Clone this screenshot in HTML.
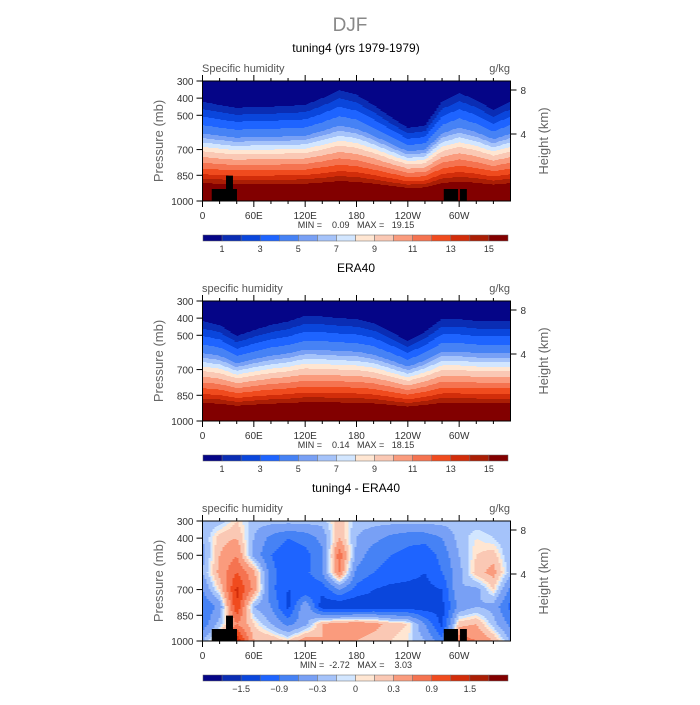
<!DOCTYPE html>
<html><head><meta charset="utf-8">
<style>
body{margin:0;background:#fff;}
svg text{font-family:"Liberation Sans",sans-serif;}
</style></head>
<body>
<svg id="chart" width="700" height="700" viewBox="0 0 700 700" xmlns="http://www.w3.org/2000/svg">
<rect width="700" height="700" fill="#fff"/>
<text x="350" y="31" font-size="19" fill="#888" text-anchor="middle">DJF</text>
</svg>
<script>
// ---- data ----
const lons = [0,20,40,60,80,100,120,140,160,180,200,220,240,260,280,300,320,340,360];
const p1Model = [421,440,457,450,450,445,440,400,353,380,440,510,574,560,420,370,410,470,421];
const p1Era   = [417,440,504,470,440,420,387,390,400,405,430,480,533,480,405,405,417,417,417];
const profS = [0,0.18,0.27,0.5,0.68,0.85,1,1.35];
const profQ = [17,15,13,9,5,3,1,0.3];
const diffP = [300,400,500,600,700,800,900,1000];
const diffGrid = [
 [-0.2,-0.2,0.1,-0.2,-0.2,-0.2,-0.2,-0.2,0.2,-0.2,-0.2,-0.2,-0.2,-0.2,-0.2,-0.2,-0.2,-0.2,-0.2],
 [-0.3,0.2,0.3,-0.3,-0.7,-0.9,-0.8,-0.5,0.3,-0.3,-0.5,-0.7,-0.8,-0.8,-0.6,-0.2,0.0,-0.1,-0.3],
 [-0.4,0.3,0.6,-0.4,-0.9,-1.1,-1.0,-0.7,0.8,-0.4,-0.8,-0.9,-1.0,-1.1,-0.8,-0.3,0.1,0.2,-0.3],
 [-0.3,0.4,0.9,0.4,-0.8,-1.1,-1.0,-0.6,0.6,-0.7,-0.9,-1.0,-1.1,-1.2,-0.9,-0.4,0.2,0.4,-0.2],
 [-0.6,0.1,1.3,0.5,-0.8,-1.2,-1.2,-1.1,-0.6,-1.0,-1.2,-1.3,-1.3,-1.3,-1.2,-0.3,-0.4,0.1,-0.7],
 [-0.9,-0.5,1.2,-0.3,-0.6,-1.3,-0.3,-1.4,-1.5,-1.5,-1.4,-1.4,-1.4,-1.4,-1.3,-0.5,-0.3,-0.4,-1.0],
 [-0.8,-0.2,0.6,0.1,-0.3,-0.7,-0.4,0.3,0.4,0.5,0.4,0.2,0.1,-0.6,-1.3,0.2,0.3,-0.2,-0.7],
 [-0.3,0.3,1.5,0.3,0.3,0.1,0.5,0.3,0.4,0.3,0.2,0.1,0.0,-0.3,-0.8,0.8,0.6,0.3,-0.3]];
const qLevels = [1,2,3,4,5,6,7,8,9,10,11,12,13,14,15];
const qLabels = ["1","3","5","7","9","11","13","15"];
const dLevels = [-1.8,-1.5,-1.2,-0.9,-0.6,-0.3,-0.1,0,0.1,0.3,0.6,0.9,1.2,1.5,1.8];
const dLabels = ["−1.5","−0.9","−0.3","0","0.3","0.9","1.5"];
const maskLon = [[10.8,40.3],[27.5,35.6],[282,298.6],[301,309]];
const maskTop = [930,852,930,930];
const pTicks = [300,400,500,700,850,1000];
const hTicks = [[8,90],[4,134]];
const xLabels = ["0","60E","120E","180","120W","60W"];
const colors = ['#050587','#0a2db4','#0a46dc','#1e64ff','#4682f5','#78a0f5','#a5c3fa','#d2e6ff','#ffe6d2','#fac8b4','#fa9b7d','#f57350','#f04b1e','#d22d0a','#aa1e05','#820000'];

const NS="http://www.w3.org/2000/svg";
const svg=document.getElementById('chart');
function mk(tag,attrs,parent){const e=document.createElementNS(NS,tag);for(const k in attrs)e.setAttribute(k,attrs[k]);(parent||svg).appendChild(e);return e;}
const X0=202.5,X1=510.5;
function xs(lon){return X0+(lon/360)*(X1-X0);}
function ys(p,top){return top+(p-300)/700*120;}
function interpLon(arr,lon){const i=Math.min(17,Math.floor(lon/20));const t=(lon-lons[i])/20;return arr[i]*(1-t)+arr[i+1]*t;}
function profile(s){if(s>=profS[profS.length-1])return profQ[profQ.length-1];for(let i=0;i<profS.length-1;i++){if(s<=profS[i+1]){const t=(s-profS[i])/(profS[i+1]-profS[i]);return profQ[i]*(1-t)+profQ[i+1]*t;}}}
function level(v,lev){let k=0;while(k<lev.length&&v>=lev[k])k++;return k;}
function diffAt(lon,p){let j=0;while(j<6&&p>diffP[j+1])j++;const tp=(p-diffP[j])/100;
 const i=Math.min(17,Math.floor(lon/20));const t=(lon-lons[i])/20;
 const a=diffGrid[j][i]*(1-t)+diffGrid[j][i+1]*t,b=diffGrid[j+1][i]*(1-t)+diffGrid[j+1][i+1]*t;return a*(1-tp)+b*tp;}

function panel(top,title,sub,field,lev,mm,labels,mask){
 const g=mk('g',{});
 
 
 const tt=mk('text',{x:356,y:top-29,'font-size':12,'text-anchor':'middle',fill:'#000'},g);tt.textContent=title;
 
 const st=mk('text',{x:202,y:top-9,'font-size':11,fill:'#555'},g);st.textContent=sub;
 
 const ut=mk('text',{x:510,y:top-9,'font-size':11,fill:'#555','text-anchor':'end'},g);ut.textContent='g/kg';
 
 const fg=mk('g',{'shape-rendering':'crispEdges'},g);
 
 for(let px=0;px<308;px+=2){
  const lon=(px+1)/308*360;let runStart=0,runLev=-1;
  for(let py=0;py<=120;py++){
   let L=-2;
   if(py<120){const p=300+(py+0.5)/120*700;L=level(field(lon,p),lev);}
   if(L!==runLev){
    if(runLev>=0){const r=mk('rect',{x:X0+px,y:top+runStart,width:2.3,height:py-runStart+0.3,fill:colors[runLev]},fg);
     }
    runLev=L;runStart=py;}
  }
 }
 if(mask){maskLon.forEach((m,i)=>{const r=mk('rect',{x:xs(m[0]),y:ys(maskTop[i],top),width:xs(m[1])-xs(m[0]),height:ys(1000,top)-ys(maskTop[i],top),fill:'#000'},g);
  });}
 const fr=mk('rect',{x:X0,y:top,width:X1-X0,height:120,fill:'none',stroke:'#000','stroke-width':1},g);
 
 pTicks.forEach(p=>{const y=ys(p,top);mk('line',{x1:X0-6,x2:X0,y1:y,y2:y,stroke:'#000'},g);
  const t=mk('text',{x:X0-9,y:y+4,'font-size':10,fill:'#333','text-anchor':'end'},g);t.textContent=p;
  });
 hTicks.forEach(h=>{const y=top+(h[1]-81);mk('line',{x1:X1,x2:X1+6,y1:y,y2:y,stroke:'#000'},g);
  const t=mk('text',{x:X1+10,y:y+4,'font-size':10,fill:'#333'},g);t.textContent=h[0];
  });
 for(let l=0;l<=340;l+=20){const x=xs(l);const len=l%60===0?6:3;
  mk('line',{x1:x,x2:x,y1:top+120,y2:top+120+len,stroke:'#000'},g);mk('line',{x1:x,x2:x,y1:top,y2:top-len,stroke:'#000'},g);}
 xLabels.forEach((s,i)=>{const t=mk('text',{x:xs(i*60),y:top+138,'font-size':10,fill:'#333','text-anchor':'middle'},g);t.textContent=s;
  });
 const m=mk('text',{x:356,y:top+147,'font-size':9,fill:'#333','text-anchor':'middle',style:'white-space:pre'},g);m.textContent=mm;
 
 const ya=mk('text',{transform:`translate(163,${top+60}) rotate(-90)`,'font-size':13,fill:'#666','text-anchor':'middle'},g);ya.textContent='Pressure (mb)';
 
 const ha=mk('text',{transform:`translate(548,${top+60}) rotate(-90)`,'font-size':13,fill:'#666','text-anchor':'middle'},g);ha.textContent='Height (km)';
 
 const cb=mk('g',{},g);
 const cy=top+154,cw=(508-203)/16;
 colors.forEach((c,i)=>{const r=mk('rect',{x:203+i*cw,y:cy,width:cw,height:6,fill:c,stroke:'#666','stroke-width':0.5},cb);
  });
 const off=labels.length===8?0:1;
 labels.forEach((s,i)=>{const bi=off+i*2;const t=mk('text',{x:203+(bi+1)*cw,y:cy+17,'font-size':9,fill:'#333','text-anchor':'middle'},cb);t.textContent=s;
  });
}
function qField(p1arr){return (lon,p)=>{const p1=interpLon(p1arr,lon);return profile((1000-p)/(1000-p1));};}
panel(81,'tuning4 (yrs 1979-1979)','Specific humidity',qField(p1Model),qLevels,'MIN =    0.09   MAX =   19.15',qLabels,true);
panel(301,'ERA40','specific humidity',qField(p1Era),qLevels,'MIN =    0.14   MAX =   18.15',qLabels,false);
panel(521,'tuning4 - ERA40','specific humidity',diffAt,dLevels,'MIN =  -2.72   MAX =    3.03',dLabels,true);
</script>
</body></html>
